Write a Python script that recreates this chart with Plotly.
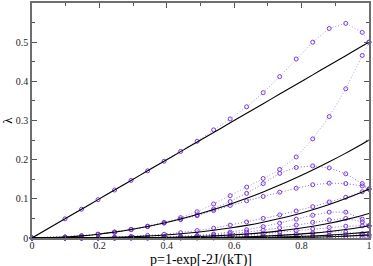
import plotly.graph_objects as go

# p values of the data points
p = [0, 0.098, 0.147, 0.196, 0.245, 0.294, 0.343, 0.392, 0.441, 0.49, 0.539,
     0.588, 0.637, 0.686, 0.735, 0.784, 0.833, 0.882, 0.931, 0.98, 1.0]

# black reference curves
b1 = [0, 0.049, 0.0735, 0.098, 0.1225, 0.147, 0.1715, 0.196, 0.2205, 0.245, 0.2695,
      0.294, 0.3185, 0.343, 0.3675, 0.392, 0.4165, 0.441, 0.4655, 0.49, 0.5]
b2 = [0, 0.0024, 0.0054, 0.0096, 0.015, 0.0216, 0.0294, 0.0384, 0.0486, 0.06, 0.0726,
      0.0864, 0.1014, 0.1176, 0.1351, 0.1537, 0.1735, 0.1945, 0.2167, 0.2401, 0.25]
b3 = [0, 0.0001, 0.0004, 0.0009, 0.0018, 0.0032, 0.005, 0.0075, 0.0107, 0.0147, 0.0196,
      0.0254, 0.0323, 0.0404, 0.0496, 0.0602, 0.0723, 0.0858, 0.1009, 0.1176, 0.125]
b4 = [0, 0.0, 0.0, 0.0001, 0.0002, 0.0005, 0.0009, 0.0015, 0.0024, 0.0036, 0.0053,
      0.0075, 0.0103, 0.0138, 0.0182, 0.0236, 0.0301, 0.0378, 0.047, 0.0576, 0.0625]
b5 = [0, 0.0, 0.0, 0.0, 0.0, 0.0001, 0.0001, 0.0003, 0.0005, 0.0009, 0.0014,
      0.0022, 0.0033, 0.0047, 0.0067, 0.0093, 0.0125, 0.0167, 0.0219, 0.0283, 0.03125]
b6 = [0, 0.0, 0.0, 0.0, 0.0, 0.0, 0.0, 0.0001, 0.0001, 0.0002, 0.0004,
      0.0006, 0.001, 0.0016, 0.0025, 0.0036, 0.0052, 0.0074, 0.0102, 0.0138, 0.0156]
b7 = [0, 0.0, 0.0, 0.0, 0.0, 0.0, 0.0, 0.0, 0.0, 0.0001, 0.0001,
      0.0002, 0.0003, 0.0006, 0.0009, 0.0014, 0.0022, 0.0032, 0.0047, 0.0068, 0.0078]
black_curves = [b1, b2, b3, b4, b5, b6, b7]

# purple data series
s1 = [0, 0.049, 0.0735, 0.098, 0.1225, 0.147, 0.1715, 0.196, 0.221, 0.247, 0.276,
      0.304, 0.335, 0.371, 0.412, 0.457, 0.500, 0.535, 0.548, 0.525, 0.5]
s2 = [0, 0.0024, 0.0054, 0.0096, 0.0152, 0.022, 0.0302, 0.0398, 0.052, 0.067, 0.087,
      0.108, 0.130, 0.152, 0.175, 0.207, 0.253, 0.310, 0.381, 0.466, 0.5]
s3 = [0, 0.0024, 0.0054, 0.0096, 0.015, 0.0217, 0.0296, 0.0388, 0.048, 0.059, 0.074,
      0.093, 0.114, 0.139, 0.165, 0.180, 0.184, 0.179, 0.164, 0.139, 0.125]
s4 = [0, 0.0024, 0.0054, 0.0096, 0.015, 0.0215, 0.029, 0.038, 0.047, 0.057, 0.070,
      0.083, 0.095, 0.106, 0.117, 0.127, 0.136, 0.140, 0.139, 0.133, 0.125]
s5 = [0, 0.0002, 0.0006, 0.0013, 0.0025, 0.0042, 0.0065, 0.0095, 0.0135, 0.019, 0.025,
      0.033, 0.041, 0.050, 0.059, 0.069, 0.080, 0.092, 0.104, 0.118, 0.125]
s6 = [0, 0.0, 0.0001, 0.0003, 0.0006, 0.001, 0.0017, 0.0027, 0.004, 0.0065, 0.01,
      0.015, 0.021, 0.029, 0.038, 0.048, 0.058, 0.066, 0.066, 0.048, 0.031]
s7 = [0, 0.0, 0.0001, 0.0002, 0.0004, 0.0007, 0.0012, 0.0019, 0.003, 0.005, 0.008,
      0.011, 0.015, 0.02, 0.026, 0.033, 0.04, 0.046, 0.05, 0.041, 0.031]
s8 = [0, 0.0, 0.0, 0.0001, 0.0002, 0.0004, 0.0007, 0.0011, 0.0017, 0.0028, 0.004,
      0.006, 0.008, 0.011, 0.015, 0.019, 0.023, 0.027, 0.03, 0.031, 0.031]
s9 = [0, 0.0, 0.0, 0.0, 0.0001, 0.0002, 0.0003, 0.0005, 0.0008, 0.0012, 0.002,
      0.003, 0.004, 0.0055, 0.0075, 0.01, 0.013, 0.016, 0.015, 0.011, 0.0078]
s10 = [0, 0.0, 0.0, 0.0, 0.0, 0.0001, 0.0001, 0.0002, 0.0003, 0.0005, 0.0008,
       0.0012, 0.0018, 0.0025, 0.0035, 0.0048, 0.006, 0.0075, 0.0085, 0.0082, 0.0078]
s11 = [0, 0.0, 0.0, 0.0, 0.0, 0.0, 0.0, 0.0001, 0.0001, 0.0002, 0.0003,
       0.0004, 0.0006, 0.0009, 0.0012, 0.0016, 0.002, 0.0025, 0.003, 0.0025, 0.002]
light_series = [s1, s2]
dark_series = [s3, s4, s5, s6, s7, s8, s9, s10, s11]

x_ticks = [0, 0.2, 0.4, 0.6, 0.8, 1]
x_tick_labels = ["0", "0.2", "0.4", "0.6", "0.8", "1"]
y_ticks = [0, 0.1, 0.2, 0.3, 0.4, 0.5]
y_tick_labels = ["0", "0.1", "0.2", "0.3", "0.4", "0.5"]
x_title = "p=1-exp[-2J/(kT)]"
y_title = "λ"

SERIF = "Liberation Serif"

fig = go.Figure()

mk = dict(symbol="circle-open", size=4, color="#7a3ad6", line=dict(width=1, color="#7a3ad6"))

for s in dark_series:
    fig.add_trace(go.Scatter(x=p, y=s, mode="lines+markers",
                             line=dict(color="#9464e4", width=1, dash="1px,2px"),
                             marker=mk, cliponaxis=False, showlegend=False))
for s in light_series:
    fig.add_trace(go.Scatter(x=p, y=s, mode="lines+markers",
                             line=dict(color="#b896f0", width=1, dash="1px,2px"),
                             marker=mk, cliponaxis=False, showlegend=False))
for b in black_curves:
    fig.add_trace(go.Scatter(x=p, y=b, mode="lines", line_shape="spline",
                             line=dict(color="black", width=1.1),
                             showlegend=False))

axis_common = dict(showline=True, linecolor="#6e6e6e", linewidth=1.5, mirror="ticks",
                   ticks="inside", ticklen=5, tickwidth=1, tickcolor="#555",
                   showgrid=False, zeroline=False,
                   tickfont=dict(family=SERIF, size=10, color="#222"))

fig.update_layout(
    width=373, height=266,
    margin=dict(l=31, r=3, t=1, b=28),
    font=dict(family=SERIF),
    plot_bgcolor="white", paper_bgcolor="white",
    xaxis=dict(range=[0, 1], tickvals=x_ticks, ticktext=x_tick_labels,
               ticklabelstandoff=-3,
               minor=dict(dtick=0.1, ticks="inside", ticklen=3, tickcolor="#555", showgrid=False),
               **axis_common),
    yaxis=dict(range=[0, 0.6], tickvals=y_ticks, ticktext=y_tick_labels,
               minor=dict(dtick=0.05, ticks="inside", ticklen=3, tickcolor="#555", showgrid=False),
               title=dict(text=y_title, standoff=6,
                          font=dict(family=SERIF, size=13, color="black")),
               **axis_common),
    annotations=[dict(text=x_title, xref="paper", yref="paper", x=0.5, y=-0.093,
                      xanchor="center", yanchor="middle", showarrow=False,
                      font=dict(family=SERIF, size=14, color="black"))],
)

fig.write_html("out.html", config={"displayModeBar": False},
               post_script="document.body.style.margin='0';document.body.style.overflow='hidden';")
